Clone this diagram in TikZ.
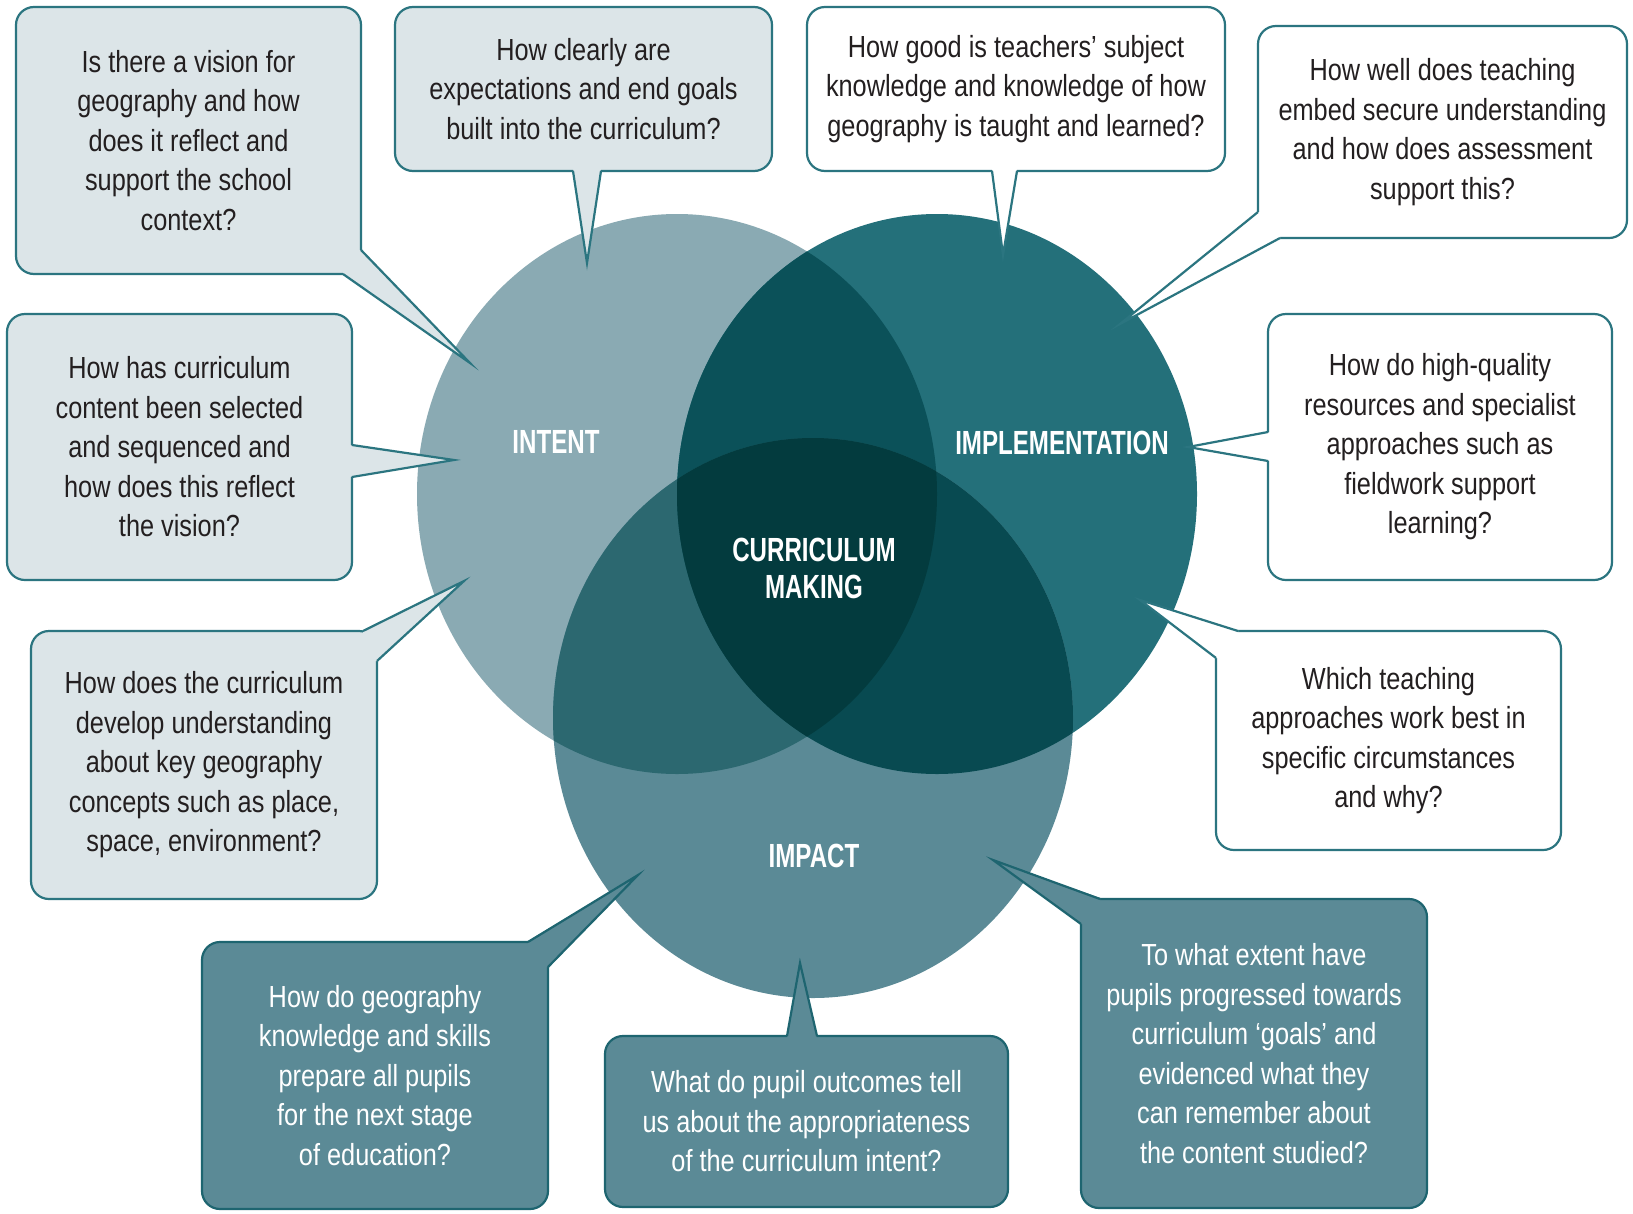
\documentclass[tikz,border=0pt]{standalone}
\usepackage{fontspec}
\setmainfont{Liberation Sans}[FakeStretch=0.83]
\newfontfamily\labelfont{Liberation Sans}[FakeStretch=0.72]
\usetikzlibrary{calc}

\definecolor{intentcol}{HTML}{8AAAB3}
\definecolor{implcol}{HTML}{24707A}
\definecolor{impactcol}{HTML}{5B8A96}
\definecolor{intimpl}{HTML}{0B5159}
\definecolor{intimpact}{HTML}{2C6870}
\definecolor{implimpact}{HTML}{084A51}
\definecolor{corecol}{HTML}{033B3E}
\definecolor{lightfill}{HTML}{DCE5E8}
\definecolor{edgeteal}{HTML}{2B7580}
\definecolor{darkedge}{HTML}{1E6570}
\definecolor{qink}{HTML}{231F20}

\newcommand\qfont{\fontsize{30.5}{39.5}\selectfont}
\newcommand\lblfont{\labelfont\bfseries\fontsize{33.5}{37}\selectfont}

% the three sets
\newcommand\intentshape{(677,494) ellipse [x radius=260pt, y radius=280pt]}
\newcommand\implshape{(937,494) ellipse [x radius=260pt, y radius=280pt]}
\newcommand\impactshape{(813,718) ellipse [x radius=260pt, y radius=280pt]}

\tikzset{
  bubble/.style={font=\qfont, align=center, line width=2.2pt, rounded corners=18pt, inner sep=0pt, outer sep=0pt},
  lightbox/.style={bubble, draw=edgeteal, fill=lightfill, text=qink},
  whitebox/.style={bubble, draw=edgeteal, fill=white, text=qink},
  darkbox/.style={bubble, draw=darkedge, fill=impactcol, text=white},
  tailedge/.style={line width=2.2pt, line join=miter, miter limit=20},
  venntitle/.style={font=\lblfont, text=white, align=center}
}

\begin{document}
\begin{tikzpicture}[x=1pt, y=-1pt]
    \useasboundingbox (0,0) rectangle (1633,1213);
    \fill[white] (0,0) rectangle (1633,1213);

    % Venn diagram
    \fill[intentcol] \intentshape;
    \fill[implcol] \implshape;
    \fill[impactcol] \impactshape;
    \begin{scope}
        \clip \intentshape;
        \fill[intimpl] \implshape;
    \end{scope}
    \begin{scope}
        \clip \intentshape;
        \fill[intimpact] \impactshape;
    \end{scope}
    \begin{scope}
        \clip \implshape;
        \fill[implimpact] \impactshape;
    \end{scope}
    \begin{scope}
        \clip \intentshape;
        \clip \implshape;
        \fill[corecol] \impactshape;
    \end{scope}

    \node[venntitle] (intentlbl) at (556,442) {INTENT};
    \node[venntitle] (impllbl) at (1062,443) {IMPLEMENTATION};
    \node[venntitle] (corelbl) at (814,568) {CURRICULUM\\MAKING};
    \node[venntitle] (impactlbl) at (814,856) {IMPACT};

    % Intent questions
    \node[lightbox, minimum width=345pt, minimum height=267pt] (vision) at (188.5,140.5)
        {Is there a vision for\\geography and how\\does it reflect and\\support the school\\context?};
    \coordinate (visiontip) at (470,363);
    \fill[lightfill] ($(vision.south east)+(-18,-3)$) -- ($(vision.south east)+(-18,1.1)$) -- (visiontip) -- ($(vision.south east)+(1.1,-24)$) -- ($(vision.south east)+(-3,-24)$) -- ($(vision.south east)+(-22,-22)$) -- cycle;
    \draw[tailedge, edgeteal] ($(vision.south east)+(-18,0)$) -- (visiontip) -- ($(vision.south east)+(0,-24)$);

    \node[lightbox, minimum width=377pt, minimum height=164pt] (goals) at (583.5,89)
        {How clearly are\\expectations and end goals\\built into the curriculum?};
    \coordinate (goalstip) at (587,263);
    \fill[lightfill] ($(goals.south)+(-10.5,-3)$) -- (goalstip) -- ($(goals.south)+(17.5,-3)$) -- cycle;
    \draw[tailedge, edgeteal] ($(goals.south)+(-10.5,0)$) -- (goalstip) -- ($(goals.south)+(17.5,0)$);

    \node[lightbox, minimum width=345pt, minimum height=266pt] (content) at (179.5,447)
        {How has curriculum\\content been selected\\and sequenced and\\how does this reflect\\the vision?};
    \coordinate (contenttip) at (454,460);
    \fill[lightfill] ($(content.east)+(-3,-2)$) -- (contenttip) -- ($(content.east)+(-3,30)$) -- cycle;
    \draw[tailedge, edgeteal] ($(content.east)+(0,-2)$) -- (contenttip) -- ($(content.east)+(0,30)$);

    \node[lightbox, minimum width=346pt, minimum height=268pt] (concepts) at (204,765)
        {How does the curriculum\\develop understanding\\about key geography\\concepts such as place,\\space, environment?};
    \coordinate (conceptstip) at (464,581);
    \fill[lightfill] ($(concepts.north east)+(-14,3)$) -- ($(concepts.north east)+(-14,-1.1)$) -- (conceptstip) -- ($(concepts.north east)+(1.1,30)$) -- ($(concepts.north east)+(-3,30)$) -- ($(concepts.north east)+(-22,22)$) -- cycle;
    \draw[tailedge, edgeteal] ($(concepts.north east)+(-14,0)$) -- (conceptstip) -- ($(concepts.north east)+(0,30)$);

    % Implementation questions
    \node[whitebox, minimum width=418pt, minimum height=164pt] (subject) at (1016,89)
        {How good is teachers’ subject\\knowledge and knowledge of how\\geography is taught and learned?};
    \coordinate (subjecttip) at (1003,255);
    \fill[white] ($(subject.south)+(-24,-3)$) -- (subjecttip) -- ($(subject.south)+(1,-3)$) -- cycle;
    \draw[tailedge, edgeteal] ($(subject.south)+(-24,0)$) -- (subjecttip) -- ($(subject.south)+(1,0)$);

    \node[whitebox, minimum width=369pt, minimum height=212pt] (embed) at (1442.5,132)
        {How well does teaching\\embed secure understanding\\and how does assessment\\support this?};
    \coordinate (embedtip) at (1120,324);
    \fill[white] ($(embed.south west)+(3,-26)$) -- ($(embed.south west)+(-1.1,-26)$) -- (embedtip) -- ($(embed.south west)+(22,1.1)$) -- ($(embed.south west)+(22,-3)$) -- ($(embed.south west)+(22,-22)$) -- cycle;
    \draw[tailedge, edgeteal] ($(embed.south west)+(0,-26)$) -- (embedtip) -- ($(embed.south west)+(22,0)$);

    \node[whitebox, minimum width=344pt, minimum height=266pt] (resources) at (1440,447)
        {How do high-quality\\resources and specialist\\approaches such as\\fieldwork support\\learning?};
    \coordinate (resourcestip) at (1188,447);
    \fill[white] ($(resources.west)+(3,-15)$) -- (resourcestip) -- ($(resources.west)+(3,14)$) -- cycle;
    \draw[tailedge, edgeteal] ($(resources.west)+(0,-15)$) -- (resourcestip) -- ($(resources.west)+(0,14)$);

    \node[whitebox, minimum width=345pt, minimum height=219pt] (approaches) at (1388.5,740.5)
        {Which teaching\\approaches work best in\\specific circumstances\\and why?};
    \coordinate (approachestip) at (1140,600);
    \fill[white] ($(approaches.north west)+(22,3)$) -- ($(approaches.north west)+(22,-1.1)$) -- (approachestip) -- ($(approaches.north west)+(-1.1,27)$) -- ($(approaches.north west)+(3,27)$) -- ($(approaches.north west)+(22,22)$) -- cycle;
    \draw[tailedge, edgeteal] ($(approaches.north west)+(22,0)$) -- (approachestip) -- ($(approaches.north west)+(0,27)$);

    % Impact questions
    \node[darkbox, minimum width=346pt, minimum height=267pt] (nextstage) at (375,1075.5)
        {How do geography\\knowledge and skills\\prepare all pupils\\for the next stage\\of education?};
    \coordinate (nextstagetip) at (638,875);
    \fill[impactcol] ($(nextstage.north east)+(-20,3)$) -- ($(nextstage.north east)+(-20,-1.1)$) -- (nextstagetip) -- ($(nextstage.north east)+(1.1,25)$) -- ($(nextstage.north east)+(-3,25)$) -- ($(nextstage.north east)+(-22,22)$) -- cycle;
    \draw[tailedge, darkedge] ($(nextstage.north east)+(-20,0)$) -- (nextstagetip) -- ($(nextstage.north east)+(0,25)$);

    \node[darkbox, minimum width=403pt, minimum height=171pt] (outcomes) at (806.5,1121.5)
        {What do pupil outcomes tell\\us about the appropriateness\\of the curriculum intent?};
    \coordinate (outcomestip) at (800,963);
    \fill[impactcol] ($(outcomes.north)+(-19.5,3)$) -- (outcomestip) -- ($(outcomes.north)+(10.5,3)$) -- cycle;
    \draw[tailedge, darkedge] ($(outcomes.north)+(-19.5,0)$) -- (outcomestip) -- ($(outcomes.north)+(10.5,0)$);

    \node[darkbox, minimum width=346pt, minimum height=309pt] (progress) at (1254,1053.5)
        {To what extent have\\pupils progressed towards\\curriculum ‘goals’ and\\evidenced what they\\can remember about\\the content studied?};
    \coordinate (progresstip) at (993,860);
    \fill[impactcol] ($(progress.north west)+(19,3)$) -- ($(progress.north west)+(19,-1.1)$) -- (progresstip) -- ($(progress.north west)+(-1.1,25)$) -- ($(progress.north west)+(3,25)$) -- ($(progress.north west)+(22,22)$) -- cycle;
    \draw[tailedge, darkedge] ($(progress.north west)+(19,0)$) -- (progresstip) -- ($(progress.north west)+(0,25)$);
\end{tikzpicture}
\end{document}
